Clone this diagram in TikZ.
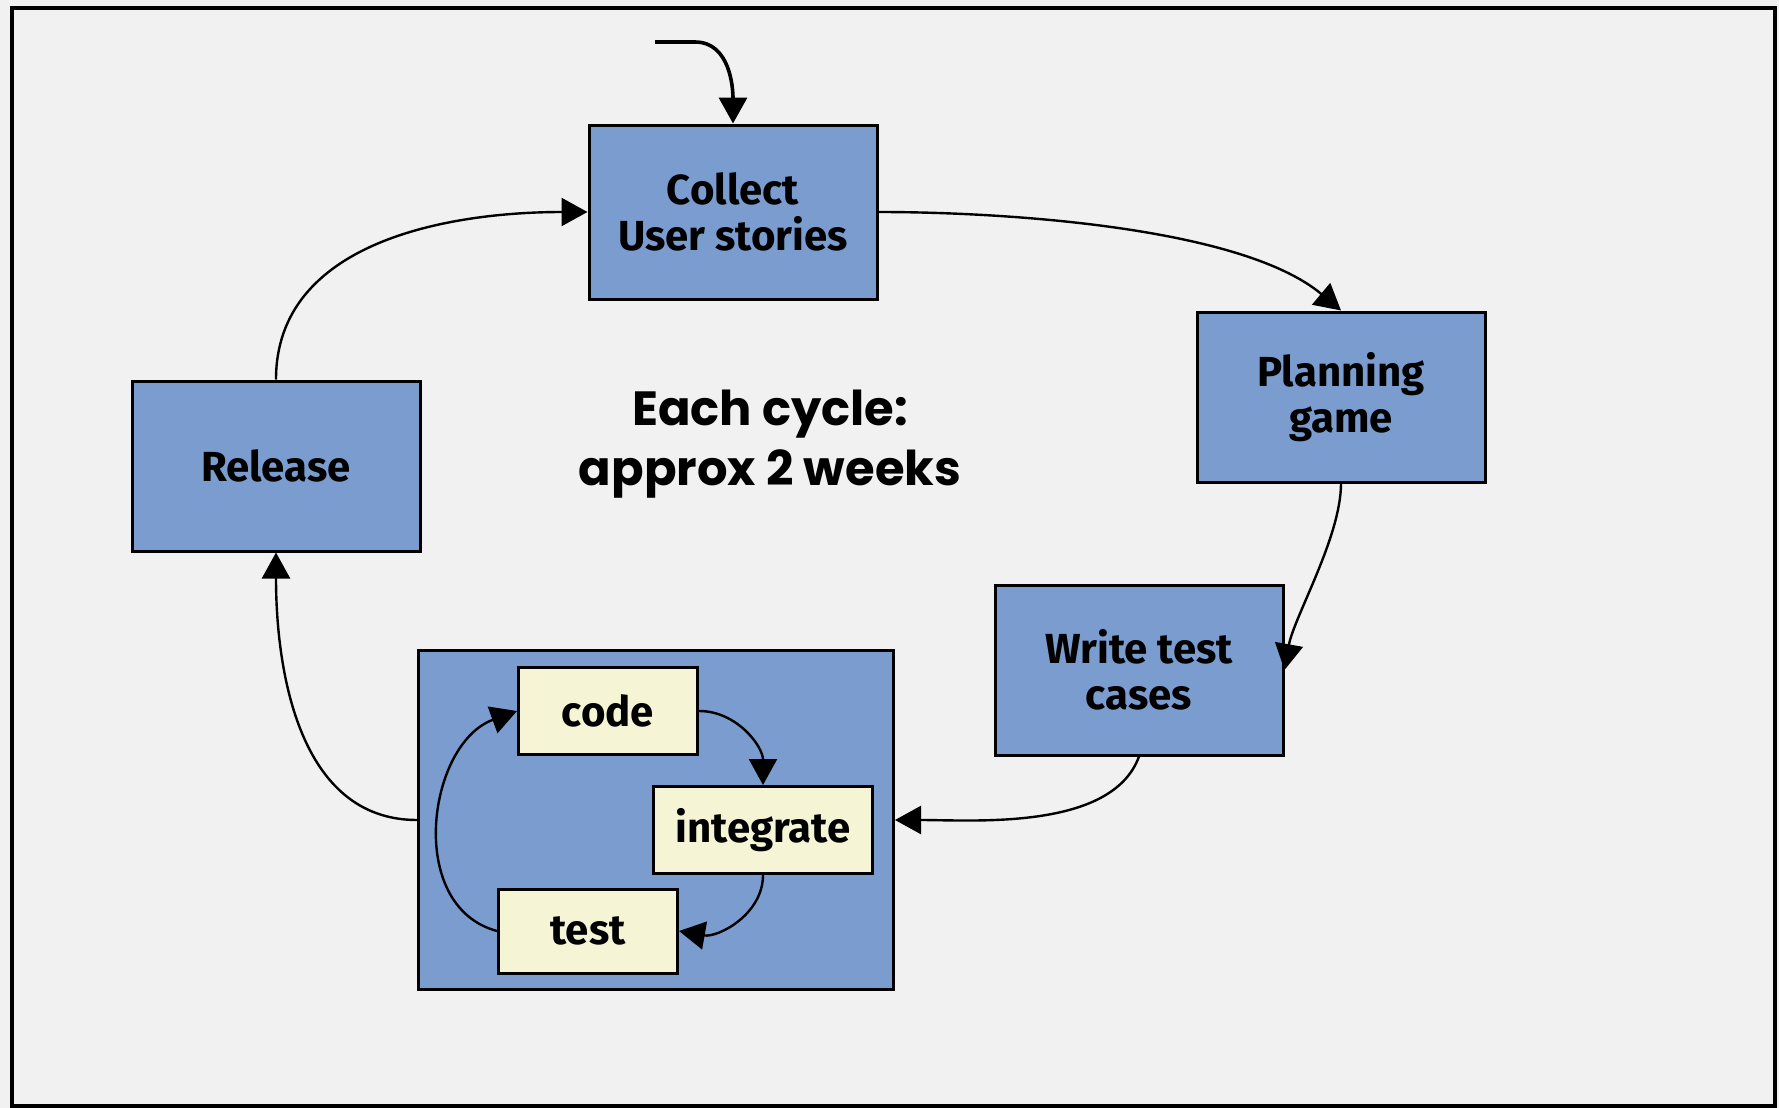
\documentclass[tikz,border=0pt]{standalone}
\usepackage{fontspec}
\setmainfont{Fira Sans}
\newfontfamily\cyclefont{Poppins}
\usetikzlibrary{arrows.meta,positioning}
\definecolor{phaseblue}{HTML}{7A9CCF}
\definecolor{taskyellow}{HTML}{F5F5D6}
\definecolor{canvas}{HTML}{F1F1F1}
\tikzset{
  phase/.style = {draw, line width=1.5pt, fill=phaseblue, minimum width=144pt,
                  minimum height=85pt, align=center,
                  font=\fontsize{21}{23}\selectfont\bfseries},
  task/.style  = {draw, line width=1.5pt, fill=taskyellow, minimum width=89.5pt,
                  minimum height=43.5pt, align=center,
                  font=\fontsize{21}{23}\selectfont\bfseries},
  group/.style = {draw, line width=1.5pt, fill=phaseblue, minimum width=237.5pt,
                  minimum height=169.5pt},
  ar/.style    = {-{Triangle[length=13pt,width=14pt]}, line width=1.2pt},
  lbl/.style   = {align=center, font=\cyclefont\fontsize{24}{30}\selectfont\bfseries}
}
\begin{document}
\begin{tikzpicture}[x=0.5pt, y=0.5pt]
  \useasboundingbox (0,0) rectangle (1779,-1108);
  \fill[canvas] (0,0) rectangle (1779,-1108);
  \draw[line width=2pt] (12,-8) rectangle (1775,-1106);
  \node[phase, minimum height=87pt] (collect) at (733,-212) {Collect\\User stories};
  \node[phase] (planning) at (1341,-397) {Planning\\game};
  \node[phase] (write)    at (1139,-670) {Write test\\cases};
  \node[phase] (release)  at (276,-466)  {Release};
  \node[group] (iter)     at (656,-820)  {};
  \node[task] (code)      at (608,-711)  {code};
  \node[task, minimum width=109.5pt] (integrate) at (763,-830) {integrate};
  \node[task, minimum height=42pt]   (test)      at (588,-931) {test};
  \node[lbl] (cycle) at (770,-444) {Each cycle:\\approx 2 weeks};
  \coordinate (start) at (655,-42);
  \coordinate (bend)  at (695,-42);
  \draw[ar, line width=1.8pt] (start) -- (bend) to[out=0, in=90] (collect.north);
  \draw[ar] (collect.east) to[out=0, in=140, looseness=0.7] (planning.north);
  \draw[ar] (planning.south) to[out=-90, in=80, looseness=0.7] (write.east);
  \draw[ar] (write.south) to[out=-110, in=0, looseness=0.8] (iter.east);
  \draw[ar] (iter.west) to[out=180, in=-90] (release.south);
  \draw[ar] (release.north) to[out=90, in=180] (collect.west);
  \draw[ar] (code.east) to[out=0, in=90] (integrate.north);
  \draw[ar] (integrate.south) to[out=-90, in=-10] (test.east);
  \draw[ar] (test.west) to[out=165, in=200, looseness=1.1] (code.west);
\end{tikzpicture}
\end{document}
